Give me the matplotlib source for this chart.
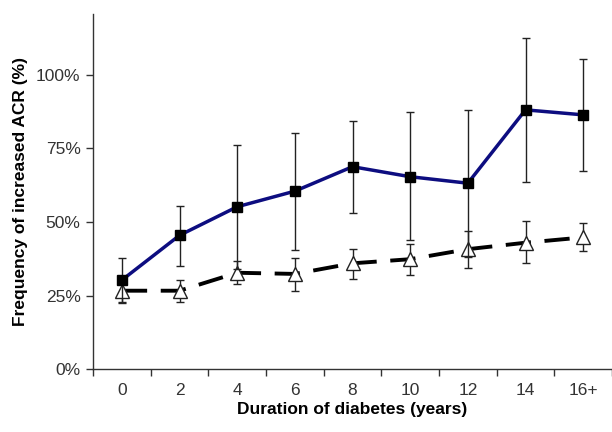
"""
ACR frequentie versus duur diabetes
 twee groepen met foutbalken
"""

import numpy as np
from matplotlib import pyplot as plt

plt.rcParams['font.family'] = ['Liberation Sans', 'DejaVu Sans']

# categorieen op de x-as
duration_labels = ['0', '2', '4', '6', '8', '10', '12', '14', '16+']

# groep 1 (blauw, vierkantjes) in fractie
group1 = [0.303, 0.455, 0.552, 0.605, 0.688, 0.654, 0.632, 0.881, 0.864]
group1_upper = [0.379, 0.555, 0.762, 0.804, 0.844, 0.875, 0.881, 1.124, 1.053]
group1_lower = [0.227, 0.352, 0.342, 0.405, 0.530, 0.439, 0.383, 0.637, 0.675]

# groep 2 (zwart gestreept, driehoekjes)
group2 = [0.267, 0.267, 0.328, 0.324, 0.360, 0.374, 0.408, 0.430, 0.448]
group2_upper = [0.307, 0.303, 0.368, 0.379, 0.410, 0.426, 0.471, 0.505, 0.496]
group2_lower = [0.226, 0.230, 0.290, 0.267, 0.308, 0.320, 0.345, 0.362, 0.403]


def plot_acr():

    x = np.arange(len(duration_labels))

    fig = plt.figure(figsize=(6.12, 4.32), dpi=100)
    ax = fig.add_axes([0.152, 0.145, 0.848, 0.823])

    g1 = np.array(group1)
    g2 = np.array(group2)
    err1 = [g1 - np.array(group1_lower), np.array(group1_upper) - g1]
    err2 = [g2 - np.array(group2_lower), np.array(group2_upper) - g2]

    # driehoekjes eerst, blauwe lijn erover
    ax.errorbar(x, g2, yerr=err2, fmt='none', ecolor='#222222',
                elinewidth=1.0, capsize=3, capthick=1.0, zorder=2)
    ax.plot(x, g2, color='black', lw=2.8, dashes=(6.5, 3.5),
            marker='^', markersize=10, markerfacecolor='white',
            markeredgecolor='#222222', markeredgewidth=1.0, zorder=3)

    ax.errorbar(x, g1, yerr=err1, fmt='none', ecolor='#222222',
                elinewidth=1.0, capsize=3, capthick=1.0, zorder=4)
    ax.plot(x, g1, color='#0d0d80', lw=2.5, marker='s', markersize=7,
            markerfacecolor='black', markeredgecolor='black', zorder=5)

    ax.set_xlim(-0.5, len(duration_labels) - 0.5)
    ax.set_ylim(0, 1.207)

    # ticks tussen de categorieen
    ax.set_xticks(np.arange(-0.5, len(duration_labels), 1.0))
    ax.set_xticklabels([])
    ax.set_xticks(x, minor=True)
    ax.set_xticklabels(duration_labels, minor=True)
    ax.tick_params(axis='x', which='minor', length=0, pad=10,
                   labelsize=12.5, labelcolor='#333333')
    ax.tick_params(axis='x', which='major', length=5, width=1,
                   color='#333333')

    ax.set_yticks([0, 0.25, 0.5, 0.75, 1.0])
    ax.set_yticklabels(['0%', '25%', '50%', '75%', '100%'])
    ax.tick_params(axis='y', length=5, width=1, color='#333333',
                   labelsize=12.5, labelcolor='#333333', pad=4)

    for side in ['top', 'right']:
        ax.spines[side].set_visible(False)
    for side in ['left', 'bottom']:
        ax.spines[side].set_color('#333333')
        ax.spines[side].set_linewidth(1.0)

    ax.set_xlabel('Duration of diabetes (years)', fontsize=12.5,
                  fontweight='bold', labelpad=3)
    ax.set_ylabel('Frequency of increased ACR (%)', fontsize=12.5,
                  fontweight='bold', labelpad=6)

    fig.savefig('out.png', dpi=100)


if __name__ == '__main__':
    plot_acr()
